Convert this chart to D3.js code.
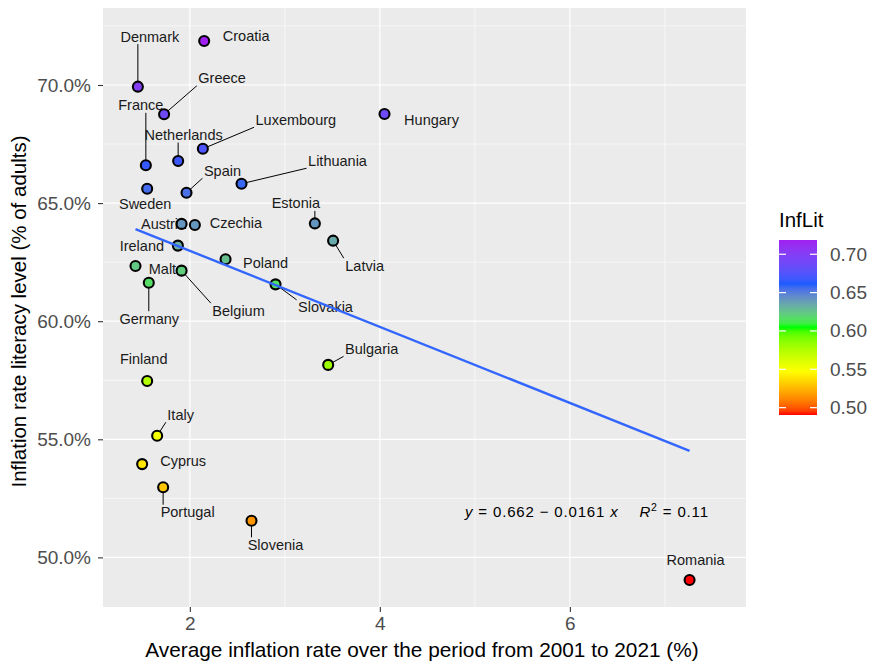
<!DOCTYPE html>
<html>
<head>
<meta charset="utf-8">
<script src="https://cdn.jsdelivr.net/npm/d3@7"></script>
<style>
  html, body { margin: 0; padding: 0; background: #fff; }
  svg { display: block; font-family: "Liberation Sans", Arial, sans-serif; }
</style>
</head>
<body>
<svg id="chart" width="869" height="663"></svg>
<script>
// ---------------- DATA ----------------
const countries = ["Denmark","Croatia","Greece","Hungary","Luxembourg","Netherlands","France","Sweden","Spain","Lithuania",
  "Estonia","Austria","Czechia","Latvia","Ireland","Poland","Malta","Belgium","Germany","Slovakia",
  "Bulgaria","Finland","Italy","Cyprus","Portugal","Slovenia","Romania"];
const inflation = [1.453,2.151,1.729,4.049,2.137,1.877,1.537,1.551,1.965,2.544,
  3.316,1.913,2.053,3.508,1.874,2.376,1.428,1.913,1.568,2.902,
  3.456,1.551,1.656,1.498,1.719,2.649,7.260];
const infLit = [0.6993,0.7186,0.6876,0.6877,0.6730,0.6678,0.6660,0.6561,0.6544,0.6582,
  0.6414,0.6412,0.6407,0.6341,0.6320,0.6262,0.6234,0.6214,0.6163,0.6156,
  0.5815,0.5747,0.5515,0.5395,0.5297,0.5155,0.4904];
const xTicks = [2, 4, 6];
const xMinor = [3, 5, 7];
const yTicks = [0.50, 0.55, 0.60, 0.65, 0.70];
const yMinor = [0.525, 0.575, 0.625, 0.675, 0.725];
const legendTicks = [0.50, 0.55, 0.60, 0.65, 0.70];
const regIntercept = 0.662;
const regSlope = -0.0161;
const rSquared = 0.11;
const colourStops = ["#FF0000", "#FFFF00", "#00FF00", "#1C5CFF", "#A020F0"];

// label placement (pixel offsets from point: dx, dy, draw segment)
const labelLayout = {
  Denmark:[12,-50,true], Croatia:[42,-5,false], Greece:[58,-36,true], Hungary:[47,6,false],
  Luxembourg:[93,-29,true], Netherlands:[5.5,-26,true], France:[-5,-60,true], Sweden:[-2,15,false],
  Spain:[36,-22,true], Lithuania:[96,-23,true], Estonia:[-19,-20,true], Austria:[-18,0,false],
  Czechia:[41,-2,false], Latvia:[31.5,25,true], Ireland:[-36,0,false], Poland:[40,4,false],
  Malta:[31,3,false], Belgium:[57,40,true], Germany:[0.5,36,true], Slovakia:[50,23,true],
  Bulgaria:[43.5,-16,true], Finland:[-3.5,-22,false], Italy:[23.5,-21,true], Cyprus:[41,-3,false],
  Portugal:[24.5,25,true], Slovenia:[24,24,true], Romania:[6,-20,false]
};

const data = countries.map((c, i) => ({ country: c, x: inflation[i], y: infLit[i] }));

// ---------------- LAYOUT ----------------
const svg = d3.select("#chart");
const panel = { left: 103, right: 746, top: 8, bottom: 607 };
const x = d3.scaleLinear().domain([1.086, 7.854]).range([panel.left, panel.right]);
const y = d3.scaleLinear().domain([0.4790, 0.7326]).range([panel.bottom, panel.top]);
const colExtent = d3.extent(infLit);
const colour = d3.scaleSequential(d3.piecewise(d3.interpolateLab, colourStops)).domain(colExtent);

// panel background
svg.append("rect").attr("x", panel.left).attr("y", panel.top)
  .attr("width", panel.right - panel.left).attr("height", panel.bottom - panel.top)
  .attr("fill", "#EBEBEB");

const grid = svg.append("g");
grid.selectAll(".xminor").data(xMinor).join("line")
  .attr("x1", d => x(d)).attr("x2", d => x(d)).attr("y1", panel.top).attr("y2", panel.bottom)
  .attr("stroke", "#fff").attr("stroke-width", 0.6);
grid.selectAll(".yminor").data(yMinor.filter(v => y(v) > panel.top)).join("line")
  .attr("y1", d => y(d)).attr("y2", d => y(d)).attr("x1", panel.left).attr("x2", panel.right)
  .attr("stroke", "#fff").attr("stroke-width", 0.6);
grid.selectAll(".xmajor").data(xTicks).join("line")
  .attr("x1", d => x(d)).attr("x2", d => x(d)).attr("y1", panel.top).attr("y2", panel.bottom)
  .attr("stroke", "#fff").attr("stroke-width", 1.2);
grid.selectAll(".ymajor").data(yTicks).join("line")
  .attr("y1", d => y(d)).attr("y2", d => y(d)).attr("x1", panel.left).attr("x2", panel.right)
  .attr("stroke", "#fff").attr("stroke-width", 1.2);

// axes
const xAxis = svg.append("g").attr("transform", `translate(0,${panel.bottom})`)
  .call(d3.axisBottom(x).tickValues(xTicks).tickFormat(d3.format("d")).tickSize(5).tickPadding(4));
const yAxis = svg.append("g").attr("transform", `translate(${panel.left},0)`)
  .call(d3.axisLeft(y).tickValues(yTicks).tickFormat(d3.format(".1%")).tickSize(5).tickPadding(7));
[xAxis, yAxis].forEach(a => {
  a.select(".domain").remove();
  a.selectAll(".tick line").attr("stroke", "#333").attr("stroke-width", 1.1);
  a.selectAll(".tick text").attr("fill", "#4D4D4D").attr("font-size", 19)
    .attr("font-family", "Liberation Sans, Arial, sans-serif");
});
xAxis.selectAll(".tick text").attr("dy", "0.71em").attr("y", 10);

svg.append("text").attr("x", 422).attr("y", 657)
  .attr("text-anchor", "middle").attr("font-size", 20.8).attr("fill", "#000")
  .text("Average inflation rate over the period from 2001 to 2021 (%)");
svg.append("text").attr("transform", `translate(26,${(panel.top + panel.bottom) / 2 + 4}) rotate(-90)`)
  .attr("text-anchor", "middle").attr("font-size", 20.5).attr("fill", "#000")
  .text("Inflation rate literacy level (% of adults)");

// labels (drawn under the points)
const labG = svg.append("g");
data.forEach(d => {
  const [dx, dy, seg] = labelLayout[d.country];
  const px = x(d.x), py = y(d.y);
  const t = labG.append("text").attr("x", px + dx).attr("y", py + dy)
    .attr("text-anchor", "middle").attr("dominant-baseline", "central")
    .attr("font-size", 14.5).attr("fill", "#1a1a1a").text(d.country);
  if (seg) {
    const b = t.node().getBBox();
    const pad = 1.5;
    const cx = Math.max(b.x - pad, Math.min(px, b.x + b.width + pad));
    const cy = Math.max(b.y + 2 - pad, Math.min(py, b.y + b.height - 2 + pad));
    labG.insert("line", "text").attr("x1", px).attr("y1", py).attr("x2", cx).attr("y2", cy)
      .attr("stroke", "#000").attr("stroke-width", 1);
  }
});

// points
svg.append("g").selectAll("circle").data(data).join("circle")
  .attr("cx", d => x(d.x)).attr("cy", d => y(d.y)).attr("r", 5)
  .attr("fill", d => colour(d.y)).attr("stroke", "#000").attr("stroke-width", 2.1);

// regression line
const xr = d3.extent(inflation);
svg.append("line")
  .attr("x1", x(xr[0])).attr("y1", y(regIntercept + regSlope * xr[0]))
  .attr("x2", x(xr[1])).attr("y2", y(regIntercept + regSlope * xr[1]))
  .attr("stroke", "#3366FF").attr("stroke-width", 2.4);

// equation
const eq = svg.append("text").attr("x", 465)
  .attr("y", 517).attr("font-size", 15).attr("fill", "#000")
  .attr("textLength", 243).attr("lengthAdjust", "spacing");
eq.append("tspan").attr("font-style", "italic").text("y");
eq.append("tspan").text(` = ${regIntercept} \u2212 ${Math.abs(regSlope)} `);
eq.append("tspan").attr("font-style", "italic").text("x");
eq.append("tspan").text("\u2003 ");
eq.append("tspan").attr("font-style", "italic").text("R");
eq.append("tspan").attr("font-size", 10.5).attr("dy", -6).text("2");
eq.append("tspan").attr("dy", 6).text(` = ${rSquared}`);

// legend
const lg = svg.append("g");
const bar = { x: 779, w: 38, top: 240, bottom: 415 };
const ly = d3.scaleLinear().domain(colExtent).range([bar.bottom, bar.top]);
const defs = svg.append("defs");
const grad = defs.append("linearGradient").attr("id", "lgrad")
  .attr("x1", 0).attr("y1", 1).attr("x2", 0).attr("y2", 0);
d3.range(0, 1.0001, 0.025).forEach(t => {
  grad.append("stop").attr("offset", t).attr("stop-color", colour(colExtent[0] + t * (colExtent[1] - colExtent[0])));
});
lg.append("rect").attr("x", bar.x).attr("y", bar.top).attr("width", bar.w)
  .attr("height", bar.bottom - bar.top).attr("fill", "url(#lgrad)");
legendTicks.forEach(v => {
  lg.append("line").attr("x1", bar.x).attr("x2", bar.x + 7).attr("y1", ly(v)).attr("y2", ly(v))
    .attr("stroke", "#fff").attr("stroke-width", 1.2);
  lg.append("line").attr("x1", bar.x + bar.w - 7).attr("x2", bar.x + bar.w).attr("y1", ly(v)).attr("y2", ly(v))
    .attr("stroke", "#fff").attr("stroke-width", 1.2);
  lg.append("text").attr("x", 830).attr("y", ly(v)).attr("dominant-baseline", "central")
    .attr("font-size", 19).attr("fill", "#4D4D4D").text(d3.format(".2f")(v));
});
lg.append("text").attr("x", 779).attr("y", 227).attr("font-size", 20.5).attr("fill", "#000").text("InfLit");
</script>
</body>
</html>
